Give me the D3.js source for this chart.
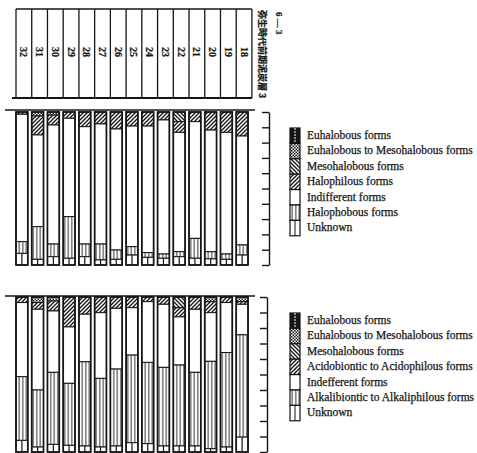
<!DOCTYPE html>
<html>
<head>
<meta charset="utf-8">
<script src="https://cdn.jsdelivr.net/npm/d3@7"></script>
<style>
body { margin: 0; background: #fff; }
text { fill: #161616; stroke: #161616; stroke-width: 0.25; }
</style>
</head>
<body>
<svg id="chart" width="477" height="453"></svg>
<script>
// sample numbers (left to right)
var samples = ["32","31","30","29","28","27","26","25","24","23","22","21","20","19","18"];

// upper diagram : salinity groups (%)
var salKeys = ["Euhalobous forms", "Euhalobous to Mesohalobous forms", "Mesohalobous forms",
  "Halophilous forms", "Indifferent forms", "Halophobous forms", "Unknown"];
var salEu      = [0, 0, 0, 0, 0, 0, 0, 0, 0, 0, 0, 0, 0, 0, 0];
var salEuMeso  = [0, 2.6, 2.0, 0, 0, 0, 0, 0, 0, 0, 0, 0, 0, 0, 0];
var salMeso    = [0, 0, 0, 0, 0, 0, 0, 0, 0, 0, 6.3, 0, 0, 0, 0];
var salHalophil = [1.5, 12.4, 6.5, 4.1, 9.6, 7.8, 11.1, 9.2, 9.2, 5.2, 7.0, 6.3, 11.8, 13.3, 15.7];
var salIndiff  = [83.2, 59.9, 77.8, 64.3, 76.7, 78.5, 79.1, 78.8, 82.7, 87.6, 78.0, 76.3, 79.5, 79.5, 71.2];
var salHalophob = [7.7, 21.4, 8.3, 27.2, 8.3, 10.4, 6.1, 5.5, 3.1, 2.8, 3.3, 13.0, 4.7, 3.5, 6.6];
var salUnknown = [7.6, 3.7, 5.4, 4.4, 5.4, 3.3, 3.7, 6.5, 5.0, 4.4, 5.4, 4.4, 4.0, 3.7, 6.5];

// lower diagram : pH groups (%)
var phKeys = ["Euhalobous forms", "Euhalobous to Mesohalobous forms", "Mesohalobous forms",
  "Acidobiontic to Acidophilous forms", "Indefferent forms", "Alkalibiontic to Alkaliphilous forms", "Unknown"];
var phEu      = [0, 0, 0, 0, 0, 0, 0, 0, 0, 0, 0, 0, 0, 0, 0];
var phEuMeso  = [0, 3.6, 2.6, 0, 0, 0, 0, 0, 0, 0, 0, 0, 3.0, 0, 3.0];
var phMeso    = [0, 0, 0, 0, 0, 0, 0, 0, 0, 0, 6.9, 0, 0, 0, 0];
var phAcido   = [3.6, 4.3, 6.4, 19.3, 11.1, 10.1, 7.3, 6.9, 3.0, 4.7, 5.9, 7.9, 7.1, 3.6, 1.7];
var phIndiff  = [47.8, 52.1, 39.6, 36.4, 30.7, 42.4, 39.2, 30.6, 39.2, 40.7, 31.1, 40.7, 31.4, 32.2, 19.7];
var phAlkali  = [41.1, 36.8, 46.5, 40.0, 54.3, 44.3, 49.6, 56.5, 52.4, 50.7, 52.2, 47.5, 56.4, 61.0, 66.0];
var phUnknown = [7.5, 3.2, 4.9, 4.3, 3.9, 3.2, 3.9, 6.0, 5.4, 3.9, 3.9, 3.9, 2.1, 3.2, 9.6];

var title = "弥生時代前期泥炭層 3";
var figNo = "6 — 3";

var svg = d3.select("#chart");
var ink = "#151515";

// patterns
var defs = svg.append("defs");
function pat(id, w, h) {
  var p = defs.append("pattern").attr("id", id)
    .attr("patternUnits", "userSpaceOnUse").attr("width", w).attr("height", h);
  p.append("rect").attr("width", w).attr("height", h).attr("fill", "#fff");
  return p;
}
var pe = pat("p-em", 3, 3);
pe.append("rect").attr("width", 1.5).attr("height", 1.5).attr("fill", ink);
pe.append("rect").attr("x", 1.5).attr("y", 1.5).attr("width", 1.5).attr("height", 1.5).attr("fill", ink);
pat("p-back", 4, 4).append("path").attr("d", "M0,0 l4,4 M-1,3 l2,2 M3,-1 l2,2")
  .attr("stroke", ink).attr("stroke-width", 1.3);
pat("p-fwd", 4, 4).append("path").attr("d", "M0,4 l4,-4 M-1,1 l2,-2 M3,5 l2,-2")
  .attr("stroke", ink).attr("stroke-width", 1.3);
pat("p-vert", 3.5, 4).append("line").attr("x1", 1.75).attr("x2", 1.75).attr("y1", 0).attr("y2", 4)
  .attr("stroke", ink).attr("stroke-width", 0.9);

var fills = [ink, "url(#p-em)", "url(#p-back)", "url(#p-fwd)", "#fff", "url(#p-vert)", "#fff"];

var x = d3.scaleBand().domain(samples).range([16, 248]).paddingInner(0.25).paddingOuter(0);
var step = x.step();

// header table with sample numbers
var head = svg.append("g").attr("stroke", ink).attr("fill", "none");
head.append("line").attr("x1", 16).attr("x2", 16 + step * 15).attr("y1", 9).attr("y2", 9).attr("stroke-width", 1.6);
head.append("line").attr("x1", 12).attr("x2", 16 + step * 15).attr("y1", 98).attr("y2", 98).attr("stroke-width", 2);
head.selectAll("line.col").data(d3.range(16)).enter().append("line").attr("class", "col")
  .attr("x1", function(i) { return 16 + i * step; })
  .attr("x2", function(i) { return 16 + i * step; })
  .attr("y1", 9).attr("y2", 98).attr("stroke-width", 1.3);
svg.selectAll("text.num").data(samples).enter().append("text").attr("class", "num")
  .attr("transform", function(d, i) { return "translate(" + (16 + i * step + step / 2) + ",52) rotate(90)"; })
  .attr("text-anchor", "middle").attr("dominant-baseline", "central")
  .style("font", "bold 10px 'Liberation Serif'").text(function(d) { return d; });

svg.append("text").attr("transform", "translate(262,10) rotate(90)")
  .attr("dominant-baseline", "central").style("font", "bold 9px 'Noto Sans CJK JP'").text(title);
svg.append("text").attr("transform", "translate(279,12) rotate(90)")
  .attr("dominant-baseline", "central").style("font", "bold 9px 'Liberation Serif'").text(figNo);

function panel(keys, cols, y0, y1, lineY, axisX, legY) {
  var table = samples.map(function(s, i) {
    var row = { sample: s };
    keys.forEach(function(k, j) { row[k] = cols[j][i]; });
    return row;
  });
  var series = d3.stack().keys(keys)(table);
  var y = d3.scaleLinear().domain([0, 100]).range([y0, y1]);
  var g = svg.append("g");

  g.append("line").attr("x1", 5).attr("x2", 255).attr("y1", lineY).attr("y2", lineY)
    .attr("stroke", ink).attr("stroke-width", 1.6);

  series.forEach(function(ser, j) {
    ser.forEach(function(d) {
      var h = y(d[1]) - y(d[0]);
      if (h <= 0) return;
      g.append("rect").attr("x", x(d.data.sample)).attr("width", x.bandwidth())
        .attr("y", y(d[0])).attr("height", h)
        .attr("fill", fills[j]).attr("stroke", ink).attr("stroke-width", 1);
      if (j == 6) {
        g.append("line").attr("x1", x(d.data.sample) + x.bandwidth() / 2).attr("x2", x(d.data.sample) + x.bandwidth() / 2)
          .attr("y1", y(d[0])).attr("y2", y(d[1])).attr("stroke", ink).attr("stroke-width", 1.2);
      }
    });
  });
  // bar outlines
  g.selectAll("rect.outline").data(samples).enter().append("rect").attr("class", "outline")
    .attr("x", function(d) { return x(d); }).attr("width", x.bandwidth())
    .attr("y", y(0)).attr("height", y(100) - y(0))
    .attr("fill", "none").attr("stroke", ink).attr("stroke-width", 1.7);

  // percent scale on the right
  var ax = g.append("g").attr("transform", "translate(" + axisX + ",0)")
    .call(d3.axisLeft(y).tickValues(d3.range(0, 101, 10)).tickSize(7).tickSizeOuter(0).tickFormat(""));
  ax.selectAll("path, line").attr("stroke", ink).attr("stroke-width", 1.4);

  // legend
  var lg = g.append("g");
  keys.forEach(function(k, j) {
    var ly = legY + j * 15.4;
    lg.append("rect").attr("x", 290).attr("y", ly).attr("width", 10).attr("height", 15.4)
      .attr("fill", fills[j]).attr("stroke", ink).attr("stroke-width", 1.2);
    if (j == 6 || j == 0) {
      lg.append("line").attr("x1", 295).attr("x2", 295).attr("y1", ly).attr("y2", ly + 15.4)
        .attr("stroke", j == 0 ? "#fff" : ink).attr("stroke-width", 1).attr("stroke-dasharray", j == 0 ? "2,1" : null);
    }
    lg.append("text").attr("x", 307).attr("y", ly + 11)
      .style("font", "11.5px 'Liberation Serif'").text(k);
  });
}

panel(salKeys, [salEu, salEuMeso, salMeso, salHalophil, salIndiff, salHalophob, salUnknown],
  112, 265, 110, 269, 128);
panel(phKeys, [phEu, phEuMeso, phMeso, phAcido, phIndiff, phAlkali, phUnknown],
  297, 452, 296, 267, 313);
</script>
</body>
</html>
